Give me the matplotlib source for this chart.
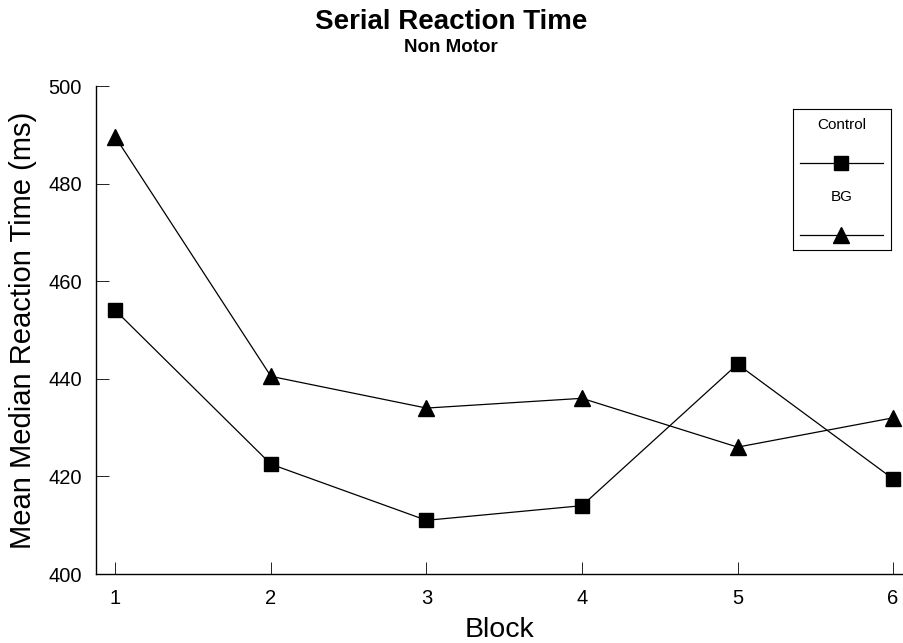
import matplotlib
matplotlib.use("Agg")
import matplotlib.pyplot as plt

blocks = [1, 2, 3, 4, 5, 6]
control = [454.0, 422.5, 411.0, 414.0, 443.0, 419.5]
bg = [489.5, 440.5, 434.0, 436.0, 426.0, 432.0]
yticks = [400, 420, 440, 460, 480, 500]
series_labels = ["Control", "BG"]

plt.rcParams['font.family'] = ['Liberation Sans', 'DejaVu Sans']

W, H = 904, 643
fig = plt.figure(figsize=(W / 100, H / 100), dpi=100)
ax = fig.add_axes([96 / W, 1 - 574 / H, (903 - 96) / W, (574 - 86) / H])

ax.plot(blocks, control, color='black', lw=0.9, marker='s', markersize=9.5)
ax.plot(blocks, bg, color='black', lw=0.9, marker='^', markersize=12)

ax.set_xlim(0.875, 6.064)
ax.set_ylim(400, 500)
ax.set_xticks(blocks)
ax.set_yticks(yticks)
ax.spines['top'].set_visible(False)
ax.spines['right'].set_visible(False)
for s in ['left', 'bottom']:
    ax.spines[s].set_linewidth(1.0)
ax.tick_params(axis='both', direction='in', length=9, width=0.6, labelsize=14.5)
ax.tick_params(axis='y', pad=10)
ax.tick_params(axis='x', pad=11)

ax.set_ylabel("Mean Median Reaction Time (ms)", fontsize=21, labelpad=8)
ax.set_xlabel("Block", fontsize=20.5, labelpad=6)

fig.text(451 / W, 1 - 22 / H, "Serial Reaction Time", ha='center', va='center',
         fontsize=20, fontweight='bold')
fig.text(451 / W, 1 - 48 / H, "Non Motor", ha='center', va='center',
         fontsize=13.5, fontweight='bold')

# legend box
lx0, lx1, ly0, ly1 = 793, 891, 109, 250
lax = fig.add_axes([lx0 / W, 1 - ly1 / H, (lx1 - lx0) / W, (ly1 - ly0) / H])
lax.set_xlim(0, 1)
lax.set_ylim(0, 1)
lax.set_xticks([])
lax.set_yticks([])
for s in lax.spines.values():
    s.set_linewidth(0.8)

def fy(py):
    return (ly1 - py) / (ly1 - ly0)

lx_a = (800 - lx0) / (lx1 - lx0)
lx_b = (883 - lx0) / (lx1 - lx0)
lx_m = (lx_a + lx_b) / 2
lax.text(0.5, fy(125), series_labels[0], ha='center', va='center', fontsize=11)
lax.plot([lx_a, lx_m, lx_b], [fy(163)] * 3, color='black', lw=0.9,
         marker='s', markersize=9.5, markevery=[1])
lax.text(0.5, fy(197), series_labels[1], ha='center', va='center', fontsize=11)
lax.plot([lx_a, lx_m, lx_b], [fy(235)] * 3, color='black', lw=0.9,
         marker='^', markersize=12, markevery=[1])

fig.savefig("out.png", dpi=100)
